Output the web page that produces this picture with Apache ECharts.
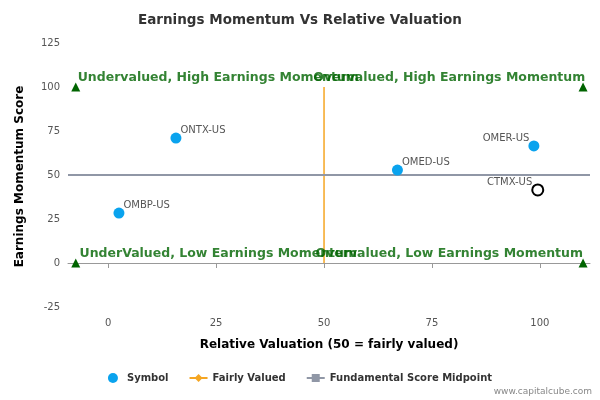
<!DOCTYPE html><html><head><meta charset="utf-8"><script src="https://cdn.jsdelivr.net/npm/echarts@6/dist/echarts.min.js"></script>
<style>html,body{margin:0;padding:0}#c{width:600px;height:400px}</style></head><body><div id="c"></div><script>
const symbols=['ONTX-US','OMBP-US','OMED-US','OMER-US','CTMX-US'];
const relVal=[15.7,2.5,67,98.6,99.5];
const momentum=[71,28.4,52.8,66.5,41.5];
const xTicks=[0,25,50,75,100];
const yTicks=[-25,0,25,50,75,100,125];
const quadLabels=['Undervalued, High Earnings Momentum','Overvalued, High Earnings Momentum','UnderValued, Low Earnings Momentum','Overvalued, Low Earnings Momentum'];
const quadPos=[[25.5,105.5],[79,105.5],[25.5,5.5],[79,5.5]];
const triPos=[[-7.5,100],[110,100],[-7.5,0],[110,0]];
const F='DejaVu Sans';
const c=echarts.init(document.getElementById('c'));
c.setOption({animation:false,textStyle:{fontFamily:F},
title:{text:'Earnings Momentum Vs Relative Valuation',left:'center',top:8,textStyle:{fontSize:13.5,fontWeight:'bold',color:'#333',fontFamily:F}},
grid:{left:68,right:10,top:43,bottom:90},
xAxis:{type:'value',min:-9.3,max:111.6,name:'Relative Valuation (50 = fairly valued)',nameLocation:'middle',nameGap:29,nameTextStyle:{fontWeight:'bold',fontSize:12,color:'#000'},
 splitLine:{show:false},axisLine:{lineStyle:{color:'#999'}},axisTick:{customValues:xTicks,lineStyle:{color:'#999'}},axisLabel:{customValues:xTicks,color:'#555',fontSize:10}},
yAxis:{type:'value',min:-26.7,max:125,name:'Earnings Momentum Score',nameLocation:'middle',nameGap:42,nameTextStyle:{fontWeight:'bold',fontSize:12,color:'#000'},
 splitLine:{show:false},axisLine:{show:false},axisTick:{show:false},axisLabel:{customValues:yTicks,color:'#555',fontSize:10}},
legend:{bottom:12,left:'center',itemGap:20,itemWidth:18,itemHeight:10,textStyle:{fontSize:10,fontWeight:'bold',color:'#333'},data:[{name:'Symbol',icon:'circle'},'Fairly Valued','Fundamental Score Midpoint']},
series:[
{name:'Fairly Valued',type:'line',data:[[50,0],[50,100]],symbol:'diamond',showSymbol:false,lineStyle:{color:'#f5a623',width:1.5},itemStyle:{color:'#f5a623'},z:1},
{name:'Fundamental Score Midpoint',type:'line',data:[[-9.3,50],[111.6,50]],symbol:'rect',showSymbol:false,lineStyle:{color:'#9097a6',width:2},itemStyle:{color:'#9097a6'},z:1},
{name:'Symbol',type:'scatter',symbolSize:11,itemStyle:{color:'#0aa3ee',opacity:1},z:3,
 data:symbols.map((s,i)=>({name:s,value:[relVal[i],momentum[i]],itemStyle:s==='CTMX-US'?{color:'#fff',borderColor:'#000',borderWidth:2}:undefined,
   label:{position:s==='CTMX-US'||s==='OMER-US'?'left':'right',offset:s==='CTMX-US'||s==='OMER-US'?[6,-8]:[-6,-8]}})),
 label:{show:true,formatter:p=>p.name,color:'#555',fontSize:10}},
{type:'scatter',symbol:'triangle',symbolSize:9,itemStyle:{color:'#006400',opacity:1},data:triPos,z:2},
{type:'scatter',symbolSize:0,data:quadPos.map((p,i)=>({value:p,label:{formatter:quadLabels[i]}})),
 label:{show:true,position:'inside',color:'#006400',fontWeight:'bold',fontSize:12.5},z:4}
],
graphic:[{type:'text',right:8,bottom:4,style:{text:'www.capitalcube.com',fill:'#888',fontSize:9,fontFamily:F}}]
});
</script></body></html>
